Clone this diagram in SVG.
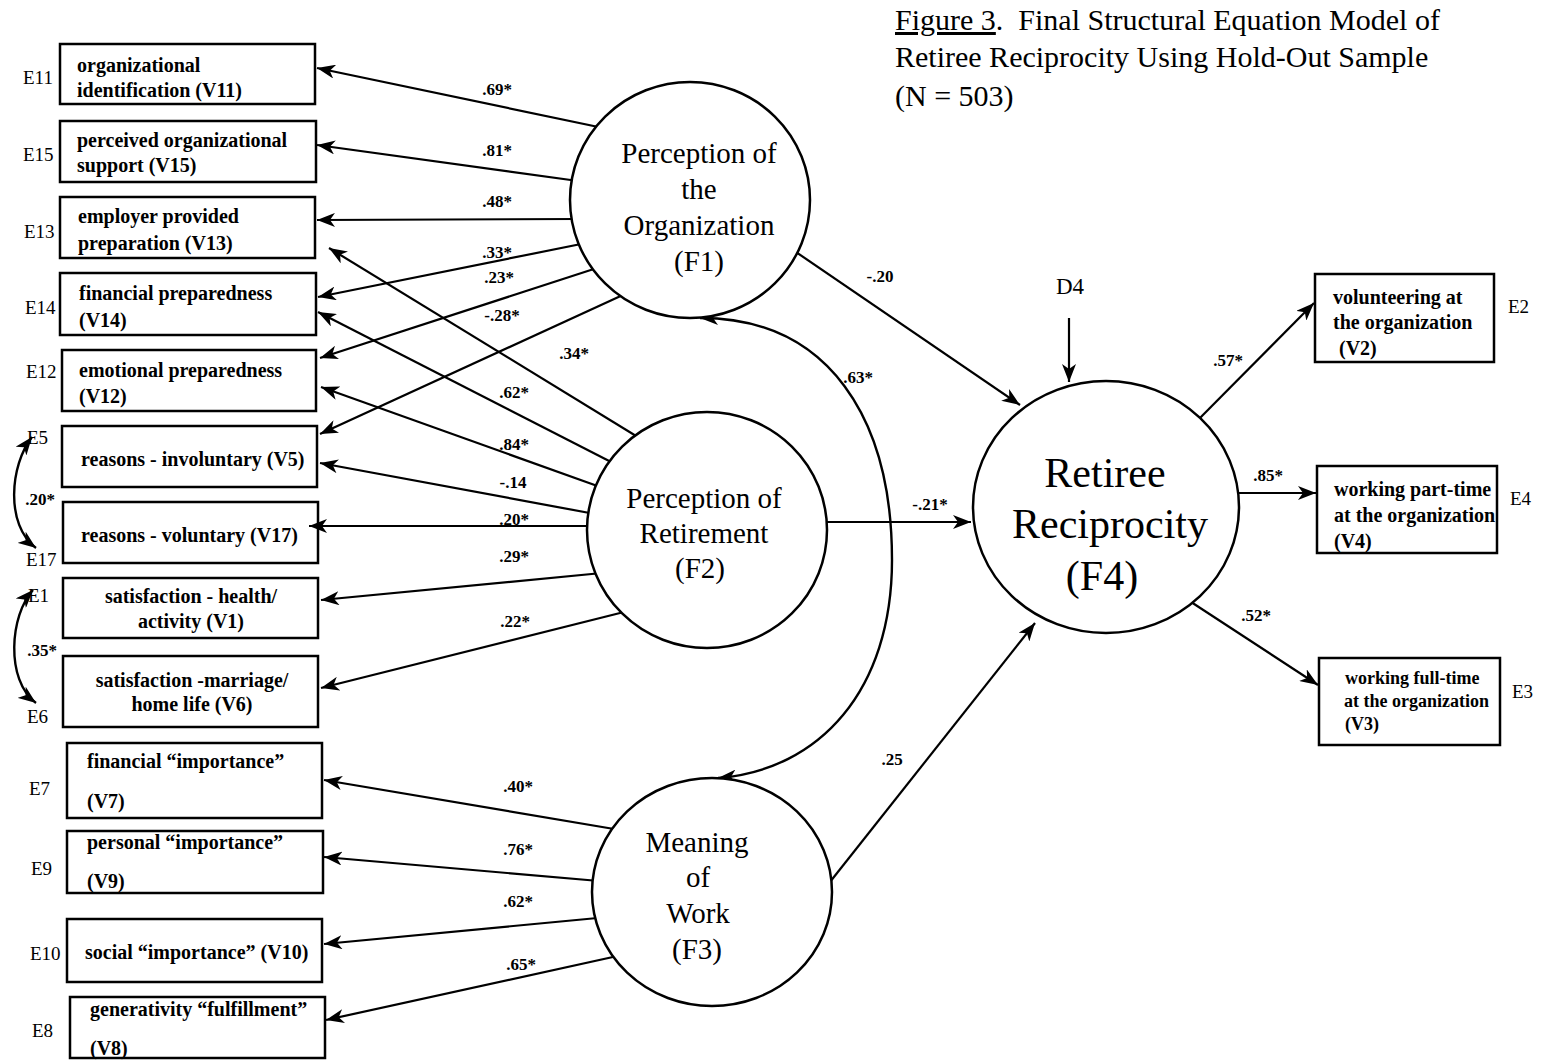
<svg xmlns="http://www.w3.org/2000/svg" width="1544" height="1062" viewBox="0 0 1544 1062">
<style>
.bx{fill:#fff;stroke:#000;stroke-width:2.5}
.lv{fill:#fff;stroke:#000;stroke-width:2.5}
.bt{font-family:"Liberation Serif",serif;font-weight:bold;font-size:20px;fill:#000}
.bt3{font-family:"Liberation Serif",serif;font-weight:bold;font-size:18px;fill:#000}
.et{font-family:"Liberation Serif",serif;font-size:19px;fill:#000}
.dt{font-family:"Liberation Serif",serif;font-size:23px;fill:#000;text-anchor:middle}
.ct{font-family:"Liberation Serif",serif;font-size:29px;fill:#000;text-anchor:middle}
.c4{font-family:"Liberation Serif",serif;font-size:42px;fill:#000;text-anchor:middle}
.cf{font-family:"Liberation Serif",serif;font-weight:bold;font-size:17px;fill:#000;text-anchor:middle}
.ti{font-family:"Liberation Serif",serif;font-size:30px;fill:#000}
.ln{fill:none;stroke:#000;stroke-width:2.2;marker-end:url(#arr)}
.dbl{fill:none;stroke:#000;stroke-width:2.4;marker-start:url(#arr);marker-end:url(#arr)}
</style>
<defs>
<marker id="arr" viewBox="0 0 18 14" refX="18" refY="7" markerWidth="18" markerHeight="14" markerUnits="userSpaceOnUse" orient="auto-start-reverse">
<path d="M0,0 L18,7 L0,14 L5,7 Z" fill="#000"/>
</marker>
</defs>
<rect width="1544" height="1062" fill="#fff"/>

<g id="title">
<text class="ti" x="895" y="30"><tspan text-decoration="underline">Figure 3</tspan>.<tspan dx="15">Final Structural Equation Model of</tspan></text>
<text class="ti" x="895" y="67">Retiree Reciprocity Using Hold-Out Sample</text>
<text class="ti" x="895" y="106">(N = 503)</text>
</g>

<g id="V11"><rect class="bx" x="60" y="44" width="255" height="60"/><text class="bt" x="77" y="72">organizational</text><text class="bt" x="77" y="97">identification (V11)</text><text class="et" x="23" y="84">E11</text></g>
<g id="V15"><rect class="bx" x="60" y="121" width="256" height="61"/><text class="bt" x="77" y="147">perceived organizational</text><text class="bt" x="77" y="172">support (V15)</text><text class="et" x="23" y="161">E15</text></g>
<g id="V13"><rect class="bx" x="60" y="197" width="255" height="61"/><text class="bt" x="78" y="223">employer provided</text><text class="bt" x="78" y="250">preparation (V13)</text><text class="et" x="24" y="238">E13</text></g>
<g id="V14"><rect class="bx" x="60" y="273" width="256" height="62"/><text class="bt" x="79" y="300">financial preparedness</text><text class="bt" x="79" y="327">(V14)</text><text class="et" x="25" y="314">E14</text></g>
<g id="V12"><rect class="bx" x="62" y="350" width="254" height="61"/><text class="bt" x="79" y="377">emotional preparedness</text><text class="bt" x="79" y="403">(V12)</text><text class="et" x="26" y="378">E12</text></g>
<g id="V5"><rect class="bx" x="62" y="426" width="255" height="61"/><text class="bt" x="81" y="466">reasons - involuntary (V5)</text><text class="et" x="27" y="444">E5</text></g>
<g id="V17"><rect class="bx" x="63" y="502" width="255" height="61"/><text class="bt" x="81" y="542">reasons - voluntary (V17)</text><text class="et" x="26" y="566">E17</text></g>
<g id="V1"><rect class="bx" x="63" y="578" width="255" height="60"/><text class="bt" x="191" y="603" text-anchor="middle">satisfaction - health/</text><text class="bt" x="191" y="628" text-anchor="middle">activity (V1)</text><text class="et" x="28" y="602">E1</text></g>
<g id="V6"><rect class="bx" x="63" y="656" width="255" height="71"/><text class="bt" x="192" y="687" text-anchor="middle">satisfaction -marriage/</text><text class="bt" x="192" y="711" text-anchor="middle">home life (V6)</text><text class="et" x="27" y="723">E6</text></g>
<g id="V7"><rect class="bx" x="67" y="743" width="255" height="75"/><text class="bt" x="87" y="768">financial “importance”</text><text class="bt" x="87" y="808">(V7)</text><text class="et" x="29" y="795">E7</text></g>
<g id="V9"><rect class="bx" x="67" y="831" width="256" height="62"/><text class="bt" x="87" y="849">personal “importance”</text><text class="bt" x="87" y="888">(V9)</text><text class="et" x="31" y="875">E9</text></g>
<g id="V10"><rect class="bx" x="67" y="919" width="255" height="63"/><text class="bt" x="85" y="959">social “importance” (V10)</text><text class="et" x="30" y="960">E10</text></g>
<g id="V8"><rect class="bx" x="70" y="997" width="255" height="61"/><text class="bt" x="90" y="1016">generativity “fulfillment”</text><text class="bt" x="90" y="1055">(V8)</text><text class="et" x="32" y="1037">E8</text></g>

<g id="V2"><rect class="bx" x="1315" y="274" width="179" height="88"/><text class="bt" x="1333" y="304">volunteering at</text><text class="bt" x="1333" y="329">the organization</text><text class="bt" x="1339" y="355">(V2)</text><text class="et" x="1508" y="313">E2</text></g>
<g id="V4"><rect class="bx" x="1317" y="466" width="180" height="87"/><text class="bt" x="1334" y="496">working part-time</text><text class="bt" x="1334" y="522">at the organization</text><text class="bt" x="1334" y="548">(V4)</text><text class="et" x="1510" y="505">E4</text></g>
<g id="V3"><rect class="bx" x="1319" y="658" width="181" height="87"/><text class="bt3" x="1345" y="684">working full-time</text><text class="bt3" x="1344" y="707">at the organization</text><text class="bt3" x="1345" y="730">(V3)</text><text class="et" x="1512" y="698">E3</text></g>

<g id="connectors">
<path class="ln" d="M608,129 L317,68"/>
<path class="ln" d="M578,181 L317,145"/>
<path class="ln" d="M578,219 L317,220"/>
<path class="ln" d="M586,243 L318,297"/>
<path class="ln" d="M600,267 L320,358"/>
<path class="ln" d="M625,294 L320,434"/>
<path class="ln" d="M641,439 L329,248"/>
<path class="ln" d="M615,464 L318,312"/>
<path class="ln" d="M603,488 L321,387"/>
<path class="ln" d="M595,514 L320,463"/>
<path class="ln" d="M597,526 L309,526"/>
<path class="ln" d="M602,573 L321,600"/>
<path class="ln" d="M628,611 L321,688"/>
<path class="ln" d="M620,830 L324,780"/>
<path class="ln" d="M599,881 L324,857"/>
<path class="ln" d="M608,917 L324,944"/>
<path class="ln" d="M622,955 L326,1020"/>
<path class="ln" d="M793,250 L1020,405"/>
<path class="ln" d="M820,522 L971,522"/>
<path class="ln" d="M826,887 L1035,623"/>
<path class="ln" d="M1069,318 L1069,382"/>
<path class="ln" d="M1195,423 L1314,303"/>
<path class="ln" d="M1232,493 L1316,493"/>
<path class="ln" d="M1188,600 L1318,685"/>
<path class="dbl" d="M700,318 C830,318 892,420 892,560 C892,690 820,770 718,778"/>
<path class="dbl" d="M32,437 C10,465 5,525 36,548"/>
<path class="dbl" d="M33,590 C10,615 5,680 36,703"/>
<g id="coefficients">
<text class="cf" x="497" y="95">.69*</text>
<text class="cf" x="497" y="156">.81*</text>
<text class="cf" x="497" y="207">.48*</text>
<text class="cf" x="497" y="258">.33*</text>
<text class="cf" x="499" y="283">.23*</text>
<text class="cf" x="502" y="321">-.28*</text>
<text class="cf" x="574" y="359">.34*</text>
<text class="cf" x="514" y="398">.62*</text>
<text class="cf" x="514" y="450">.84*</text>
<text class="cf" x="513" y="488">-.14</text>
<text class="cf" x="514" y="525">.20*</text>
<text class="cf" x="514" y="562">.29*</text>
<text class="cf" x="515" y="627">.22*</text>
<text class="cf" x="518" y="792">.40*</text>
<text class="cf" x="518" y="855">.76*</text>
<text class="cf" x="518" y="907">.62*</text>
<text class="cf" x="521" y="970">.65*</text>
<text class="cf" x="880" y="282">-.20</text>
<text class="cf" x="858" y="383">.63*</text>
<text class="cf" x="930" y="510">-.21*</text>
<text class="cf" x="892" y="765">.25</text>
<text class="cf" x="1228" y="366">.57*</text>
<text class="cf" x="1268" y="481">.85*</text>
<text class="cf" x="1256" y="621">.52*</text>
<text class="cf" x="40" y="505">.20*</text>
<text class="cf" x="42" y="656">.35*</text>
</g>
</g>

<g id="F1"><ellipse class="lv" cx="690" cy="200" rx="120" ry="118"/><text class="ct" x="699" y="163">Perception of</text><text class="ct" x="699" y="199">the</text><text class="ct" x="699" y="235">Organization</text><text class="ct" x="699" y="271">(F1)</text></g>
<g id="F2"><ellipse class="lv" cx="707" cy="530" rx="120" ry="118"/><text class="ct" x="704" y="508">Perception of</text><text class="ct" x="704" y="543">Retirement</text><text class="ct" x="700" y="578">(F2)</text></g>
<g id="F3"><ellipse class="lv" cx="712" cy="892" rx="120" ry="114"/><text class="ct" x="697" y="852">Meaning</text><text class="ct" x="698" y="887">of</text><text class="ct" x="698" y="923">Work</text><text class="ct" x="697" y="959">(F3)</text></g>
<g id="F4"><ellipse class="lv" cx="1106" cy="507" rx="133" ry="126"/><text class="c4" x="1105" y="487">Retiree</text><text class="c4" x="1110" y="538">Reciprocity</text><text class="c4" x="1102" y="590">(F4)</text></g>
<g id="D4"><text class="dt" x="1070" y="294">D4</text></g>
</svg>
